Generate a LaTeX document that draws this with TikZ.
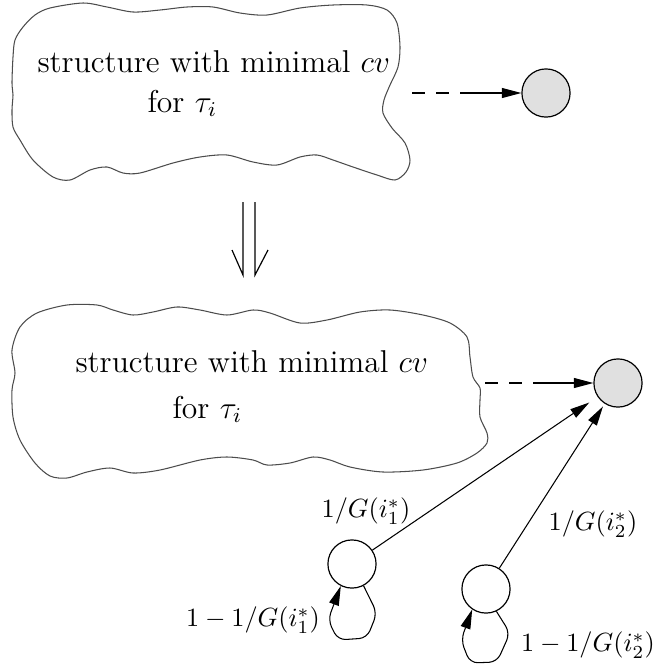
\documentclass[tikz,border=0pt]{standalone}
\usetikzlibrary{arrows.meta}
\begin{document}
\begin{tikzpicture}[x=0.38pt,y=-0.38pt,
  cloudline/.style={draw=black!70,line width=0.4pt},
  state/.style={circle,draw,line width=0.45pt,minimum size=18.3pt,inner sep=0pt},
  target/.style={state,fill=black!12},
  tip/.style={-{Triangle[length=7.4pt,width=3.8pt]}},
  dashtip/.style={tip,dash pattern=on 4.8pt off 4.4pt on 5pt off 4.2pt on 60pt off 0.01pt},
  txt/.style={inner sep=0pt,anchor=base west,font=\large},
  lbl/.style={inner sep=0pt}]
\useasboundingbox (0,0) rectangle (654,666);

% clouds
\draw[cloudline] plot[smooth cycle] coordinates {
 (23,27) (35,15) (50,8) (83,3) (107,7) (133,12) (160,10) (187,7) (213,7) (240,13)
 (267,15) (300,8) (333,5) (367,5) (387,10) (397,23) (400,47) (398,67) (390,85)
 (384,100) (383,113) (392,128) (405,143) (410,160) (406,172) (395,180) (377,175)
 (353,167) (333,160) (317,155) (300,157) (277,165) (253,162) (227,155) (200,157)
 (173,163) (140,173) (123,173) (107,167) (90,170) (70,180) (53,177) (33,160)
 (20,140) (13,127) (12,110) (13,95) (12,83) (13,57) (15,40)};
\draw[cloudline] plot[smooth cycle] coordinates {
 (20,327) (37,313) (67,305) (97,305) (113,310) (133,315) (153,312) (177,307)
 (200,310) (227,315) (253,310) (270,313) (300,323) (327,320) (360,312) (390,310)
 (423,315) (450,323) (467,337) (470,357) (473,377) (480,388) (480,400) (480,417)
 (487,433) (487,443) (477,453) (457,463) (423,470) (383,472) (350,467) (330,460)
 (313,457) (290,463) (267,465) (253,460) (227,457) (200,460) (160,470) (133,473)
 (110,468) (87,472) (67,478) (50,476) (35,463) (20,440) (13,417) (12,390)
 (15,373) (12,350)};

% texts in clouds
\node[txt] (t1) at (37,72) {structure with minimal $cv$};
\node[txt] (t1b) at (147,112) {for $\tau_i$};
\node[txt] (t2) at (75,372) {structure with minimal $cv$};
\node[txt] (t2b) at (172,418) {for $\tau_i$};

% nodes
\node[target] (c1) at (546,93) {};
\node[target] (c2) at (618,383) {};
\node[state] (a) at (352,564) {};
\node[state] (b) at (486,589) {};

% dashed arrows
\coordinate (d1) at (412,93);
\coordinate (d2) at (485,383);
\draw[dashtip] (d1) -- (c1);
\draw[dashtip] (d2) -- (c2);

% implication arrow
\coordinate (l1) at (243,202); \coordinate (l2) at (243,275); \coordinate (l3) at (232,250);
\coordinate (r1) at (255,202); \coordinate (r2) at (255,275); \coordinate (r3) at (268,250);
\draw[line width=0.45pt] (l1) -- (l2) -- (l3);
\draw[line width=0.45pt] (r1) -- (r2) -- (r3);

% edges
\draw[tip,line width=0.4pt,shorten >=3.8pt] (a) -- (c2);
\draw[tip,line width=0.4pt,shorten >=1.2pt] (b) -- (c2);

% self loops
\draw[tip,line width=0.4pt,rounded corners=3pt] (a.-62) -- (377,613) -- (367,638) -- (338,640) -- (328,620) -- (a.-117);
\draw[tip,line width=0.4pt,rounded corners=3pt] (b.-65) -- (510,633) -- (497,662) -- (470,663) -- (461,640) -- (b.-124);

% labels
\node[lbl] (la) at (366,511) {$1/G(i_1^*)$};
\node[lbl] (lb) at (593,524) {$1/G(i_2^*)$};
\node[lbl] (lc) at (253,620) {$1-1/G(i_1^*)$};
\node[lbl] (ld) at (588,645) {$1-1/G(i_2^*)$};
\end{tikzpicture}
\end{document}
